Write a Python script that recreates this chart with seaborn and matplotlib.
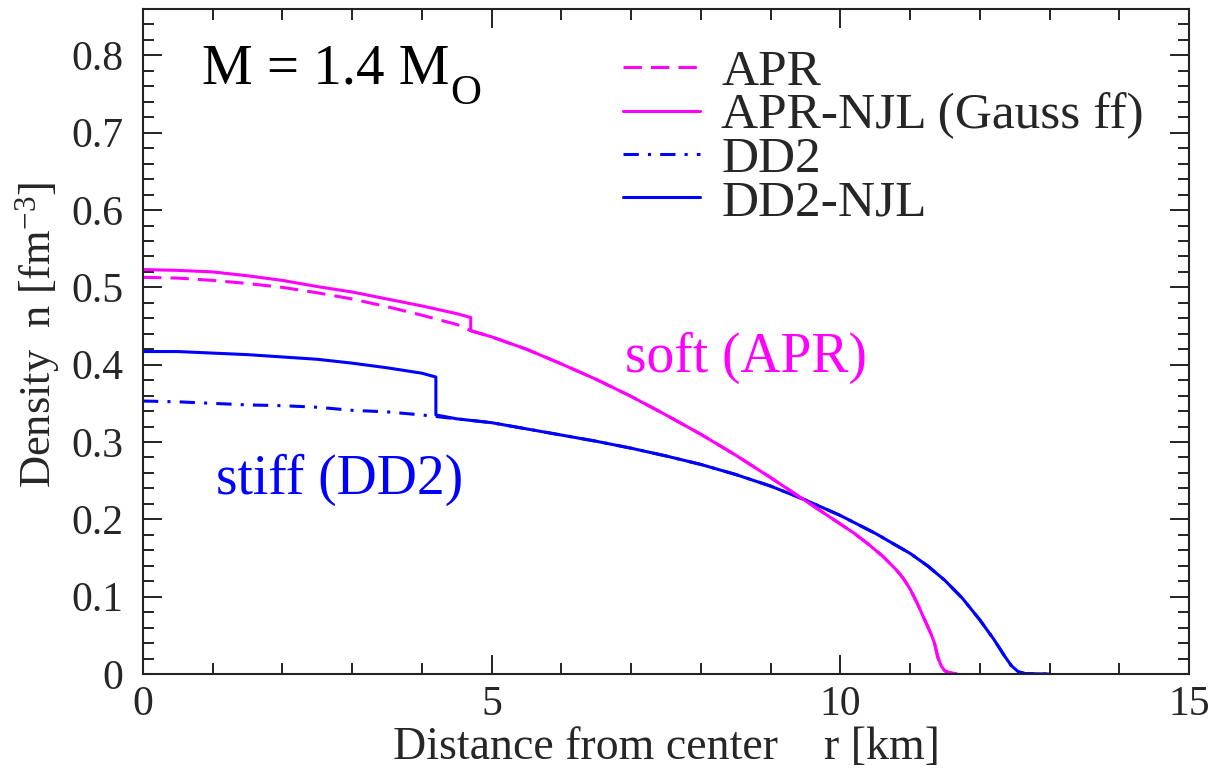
import matplotlib
matplotlib.use("Agg")
import matplotlib.pyplot as plt
from matplotlib.ticker import MultipleLocator, FuncFormatter
import seaborn as sns

# Radial density profiles of a 1.4 solar-mass star
r_apr = [0.0, 0.5, 1.0, 1.5, 2.0, 2.5, 3.0, 3.5, 4.0, 4.5, 4.7, 5.0, 5.5, 6.0,
         6.5, 7.0, 7.5, 8.0, 8.5, 9.0, 9.5, 10.0, 10.2, 10.4, 10.6, 10.8,
         10.9, 11.0, 11.1, 11.2, 11.3, 11.35, 11.4, 11.45, 11.5, 11.55, 11.67]
n_apr = [0.513, 0.512, 0.509, 0.505, 0.500, 0.493, 0.485, 0.475, 0.464, 0.452,
         0.444, 0.436, 0.420, 0.401, 0.381, 0.359, 0.335, 0.310, 0.283, 0.254,
         0.224, 0.194, 0.182, 0.168, 0.153, 0.135, 0.124, 0.110, 0.092, 0.072,
         0.052, 0.040, 0.021, 0.010, 0.004, 0.002, 0.0]

r_apr_njl = [0.0, 0.5, 1.0, 1.5, 2.0, 2.5, 3.0, 3.5, 4.0, 4.5, 4.7, 4.7, 5.0,
             5.5, 6.0, 6.5, 7.0, 7.5, 8.0, 8.5, 9.0, 9.5, 10.0, 10.2, 10.4,
             10.6, 10.8, 10.9, 11.0, 11.1, 11.2, 11.3, 11.35, 11.4, 11.45,
             11.5, 11.55, 11.67]
n_apr_njl = [0.523, 0.522, 0.520, 0.515, 0.509, 0.501, 0.494, 0.485, 0.476,
             0.466, 0.461, 0.444, 0.436, 0.420, 0.401, 0.381, 0.359, 0.335,
             0.310, 0.283, 0.254, 0.224, 0.194, 0.182, 0.168, 0.153, 0.135,
             0.124, 0.110, 0.092, 0.072, 0.052, 0.040, 0.021, 0.010, 0.004,
             0.002, 0.0]

r_dd2 = [0.0, 0.5, 1.0, 1.5, 2.0, 2.5, 3.0, 3.5, 4.0, 4.2, 4.5, 5.0, 5.5, 6.0,
         6.5, 7.0, 7.5, 8.0, 8.5, 9.0, 9.5, 10.0, 10.5, 11.0, 11.25, 11.5,
         11.75, 12.0, 12.2, 12.35, 12.45, 12.55, 12.65, 13.0]
n_dd2 = [0.353, 0.352, 0.350, 0.348, 0.347, 0.345, 0.341, 0.339, 0.335, 0.333,
         0.330, 0.325, 0.317, 0.309, 0.301, 0.292, 0.282, 0.271, 0.258, 0.243,
         0.225, 0.205, 0.182, 0.156, 0.140, 0.121, 0.098, 0.070, 0.045, 0.024,
         0.011, 0.003, 0.0005, 0.0]

r_dd2_njl = [0.0, 0.5, 1.0, 1.5, 2.0, 2.5, 3.0, 3.5, 4.0, 4.2, 4.2, 4.5, 5.0,
             5.5, 6.0, 6.5, 7.0, 7.5, 8.0, 8.5, 9.0, 9.5, 10.0, 10.5, 11.0,
             11.25, 11.5, 11.75, 12.0, 12.2, 12.35, 12.45, 12.55, 12.65, 13.0]
n_dd2_njl = [0.417, 0.417, 0.415, 0.413, 0.410, 0.407, 0.402, 0.396, 0.389,
             0.384, 0.335, 0.330, 0.325, 0.317, 0.309, 0.301, 0.292, 0.282,
             0.271, 0.258, 0.243, 0.225, 0.205, 0.182, 0.156, 0.140, 0.121,
             0.098, 0.070, 0.045, 0.024, 0.011, 0.003, 0.0005, 0.0]

series_labels = ["APR", "APR-NJL (Gauss ff)", "DD2", "DD2-NJL"]
x_ticks = [0, 5, 10, 15]
y_ticks = [0, 0.1, 0.2, 0.3, 0.4, 0.5, 0.6, 0.7, 0.8]

MAGENTA = "#ff00ff"
BLUE = "#0000ff"

sns.set_style("ticks")
plt.rcParams["font.family"] = ["Liberation Serif", "DejaVu Serif"]
plt.rcParams["mathtext.fontset"] = "custom"
plt.rcParams["mathtext.rm"] = "Liberation Serif"
plt.rcParams["mathtext.it"] = "Liberation Serif:italic"

fig = plt.figure(figsize=(12.1, 7.71), dpi=100)
ax = fig.add_axes([143 / 1210, 97 / 771, 1046 / 1210, 665 / 771])

lw = 2.2
sns.lineplot(x=r_dd2, y=n_dd2, ax=ax, color=BLUE, lw=lw, estimator=None,
             sort=False, label=series_labels[2])
ax.lines[-1].set_linestyle((0, (5, 3, 1, 3)))
sns.lineplot(x=r_dd2_njl, y=n_dd2_njl, ax=ax, color=BLUE, lw=lw,
             estimator=None, sort=False, label=series_labels[3])
sns.lineplot(x=r_apr, y=n_apr, ax=ax, color=MAGENTA, lw=lw, estimator=None,
             sort=False, label=series_labels[0])
ax.lines[-1].set_linestyle((0, (6, 3)))
sns.lineplot(x=r_apr_njl, y=n_apr_njl, ax=ax, color=MAGENTA, lw=lw,
             estimator=None, sort=False, label=series_labels[1])

ax.set_xlim(0, 15)
ax.set_ylim(0, 0.86)
ax.set_xticks(x_ticks)
ax.set_yticks(y_ticks)
ax.xaxis.set_minor_locator(MultipleLocator(1))
ax.yaxis.set_minor_locator(MultipleLocator(0.02))
ax.yaxis.set_major_formatter(FuncFormatter(lambda v, p: "0" if v == 0 else f"{v:.1f}"))

for s in ax.spines.values():
    s.set_visible(True)
    s.set_linewidth(1.5)
    s.set_color("#222222")
ax.tick_params(which="both", direction="in", top=True, right=True,
               width=1.4, color="#222222")
ax.tick_params(which="major", length=14, labelsize=30)
ax.tick_params(which="minor", length=8)
ax.tick_params(axis="x", which="major", pad=8)
ax.tick_params(axis="y", which="major", pad=14)

ax.set_xlabel("Distance from center    r [km]", fontsize=33, labelpad=2)
ax.set_ylabel(r"Density  n [fm$^{-3}$]", fontsize=32)
ax.yaxis.set_label_coords(-0.077, 0.51)

# Stellar mass annotation with a large solar-mass subscript
mass_txt = ax.text(0.84, 0.764, "M = 1.4 M", fontsize=41, color="black",
                   ha="left", va="baseline")
ax.annotate("O", xy=(1, 0), xycoords=mass_txt, xytext=(1, -6),
            textcoords="offset points", fontsize=31, color="black",
            ha="left", va="baseline")

ax.text(6.91, 0.391, "soft (APR)", fontsize=40, color=MAGENTA,
        ha="left", va="baseline")
ax.text(1.05, 0.233, "stiff (DD2)", fontsize=40, color=BLUE,
        ha="left", va="baseline")

handles, labels = ax.get_legend_handles_labels()
order = [labels.index(l) for l in series_labels]
leg = ax.legend([handles[i] for i in order], [labels[i] for i in order],
                loc="upper left", bbox_to_anchor=(6.88, 0.808),
                bbox_transform=ax.transData, frameon=False, fontsize=37,
                handlelength=1.5, handletextpad=0.42, labelspacing=-0.07,
                borderpad=0, borderaxespad=0)

fig.savefig("out.png", dpi=100)
